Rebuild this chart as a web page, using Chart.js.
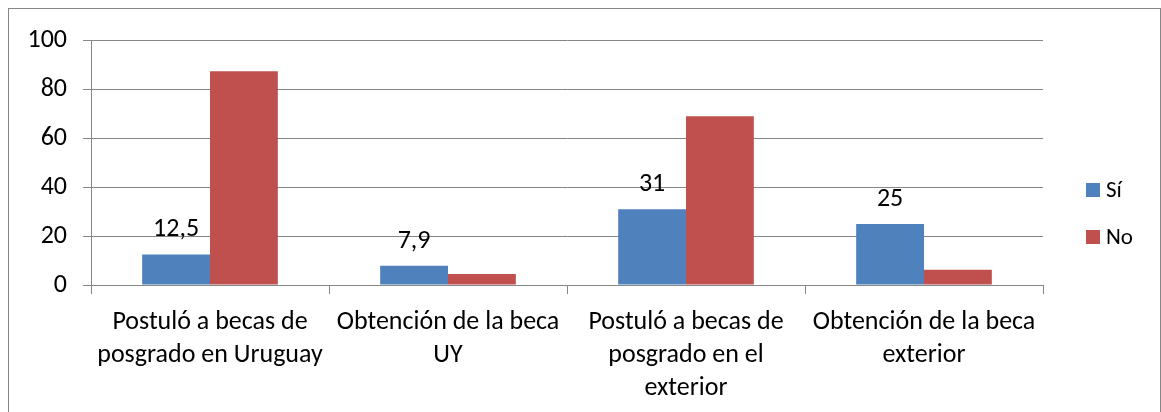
<!DOCTYPE html>
<html>
<head>
<meta charset="utf-8">
<script src="https://cdn.jsdelivr.net/npm/chart.js@4/dist/chart.umd.min.js"></script>
<style>
  body { margin: 0; background: #fff; overflow: hidden; }
  #box { position: absolute; left: 8px; top: 8px; width: 1151px; height: 420px; border: 1px solid #868686; }
</style>
</head>
<body>
<div id="box"><canvas id="barChart"></canvas></div>
<script>
const categories = [
  ['Postuló a becas de', 'posgrado en Uruguay'],
  ['Obtención de la beca', 'UY'],
  ['Postuló a becas de', 'posgrado en el', 'exterior'],
  ['Obtención de la beca', 'exterior']
];
const seriesNames = ['Sí', 'No'];
const siValues = [12.5, 7.9, 31, 25];
const noValues = [87.5, 4.5, 69, 6.2];
const yTicks = [0, 20, 40, 60, 80, 100];

const fontFamily = "Carlito, 'Liberation Sans', Arial, sans-serif";
const gridColor = '#868686';

// values above the blue bars only, with decimal comma
const valueLabels = {
  id: 'valueLabels',
  afterDatasetsDraw(chart) {
    const ctx = chart.ctx;
    const meta = chart.getDatasetMeta(0);
    ctx.save();
    ctx.font = '26px ' + fontFamily;
    ctx.fillStyle = '#000';
    ctx.textAlign = 'center';
    ctx.textBaseline = 'alphabetic';
    meta.data.forEach((bar, i) => {
      const text = String(chart.data.datasets[0].data[i]).replace('.', ',');
      ctx.fillText(text, bar.x, bar.y - 18);
    });
    ctx.restore();
  }
};

// simple legend on the right, like the Excel one
const sideLegend = {
  id: 'sideLegend',
  afterDraw(chart) {
    const ctx = chart.ctx;
    const x = chart.chartArea.right + 43;
    const top = 181;
    ctx.save();
    ctx.font = '23px ' + fontFamily;
    ctx.textBaseline = 'middle';
    chart.data.datasets.forEach((ds, i) => {
      const cy = top + i * 47;
      ctx.fillStyle = ds.backgroundColor;
      ctx.fillRect(x, cy - 7, 14, 14);
      ctx.fillStyle = '#000';
      ctx.fillText(ds.label, x + 20, cy + 1);
    });
    ctx.restore();
  }
};

const ctx = document.getElementById('barChart').getContext('2d');

new Chart(ctx, {
  type: 'bar',
  data: {
    labels: categories,
    datasets: [
      { label: seriesNames[0], data: siValues, backgroundColor: '#4F81BD' },
      { label: seriesNames[1], data: noValues, backgroundColor: '#C0504D' }
    ]
  },
  options: {
    responsive: true,
    maintainAspectRatio: false,
    animation: false,
    events: [],
    categoryPercentage: 0.57,
    barPercentage: 1,
    layout: { padding: { left: 0, top: 30, right: 117, bottom: 0 } },
    plugins: {
      legend: { display: false },
      tooltip: { enabled: false }
    },
    scales: {
      x: {
        afterFit(scale) { scale.height = 144; },
        grid: {
          offset: true,
          drawOnChartArea: false,
          color: gridColor,
          tickLength: 9
        },
        border: { color: gridColor },
        ticks: {
          color: '#000',
          padding: 12,
          maxRotation: 0,
          autoSkip: false,
          font: { family: fontFamily, size: 26, lineHeight: 1.27 }
        }
      },
      y: {
        min: 0,
        max: 100,
        afterFit(scale) { scale.width = 82; },
        afterBuildTicks(scale) { scale.ticks = yTicks.map(v => ({ value: v })); },
        grid: { color: gridColor, tickLength: 8 },
        border: { color: gridColor },
        ticks: {
          color: '#000',
          padding: 16,
          font: { family: fontFamily, size: 26 }
        }
      }
    }
  },
  plugins: [valueLabels, sideLegend]
});
</script>
</body>
</html>
